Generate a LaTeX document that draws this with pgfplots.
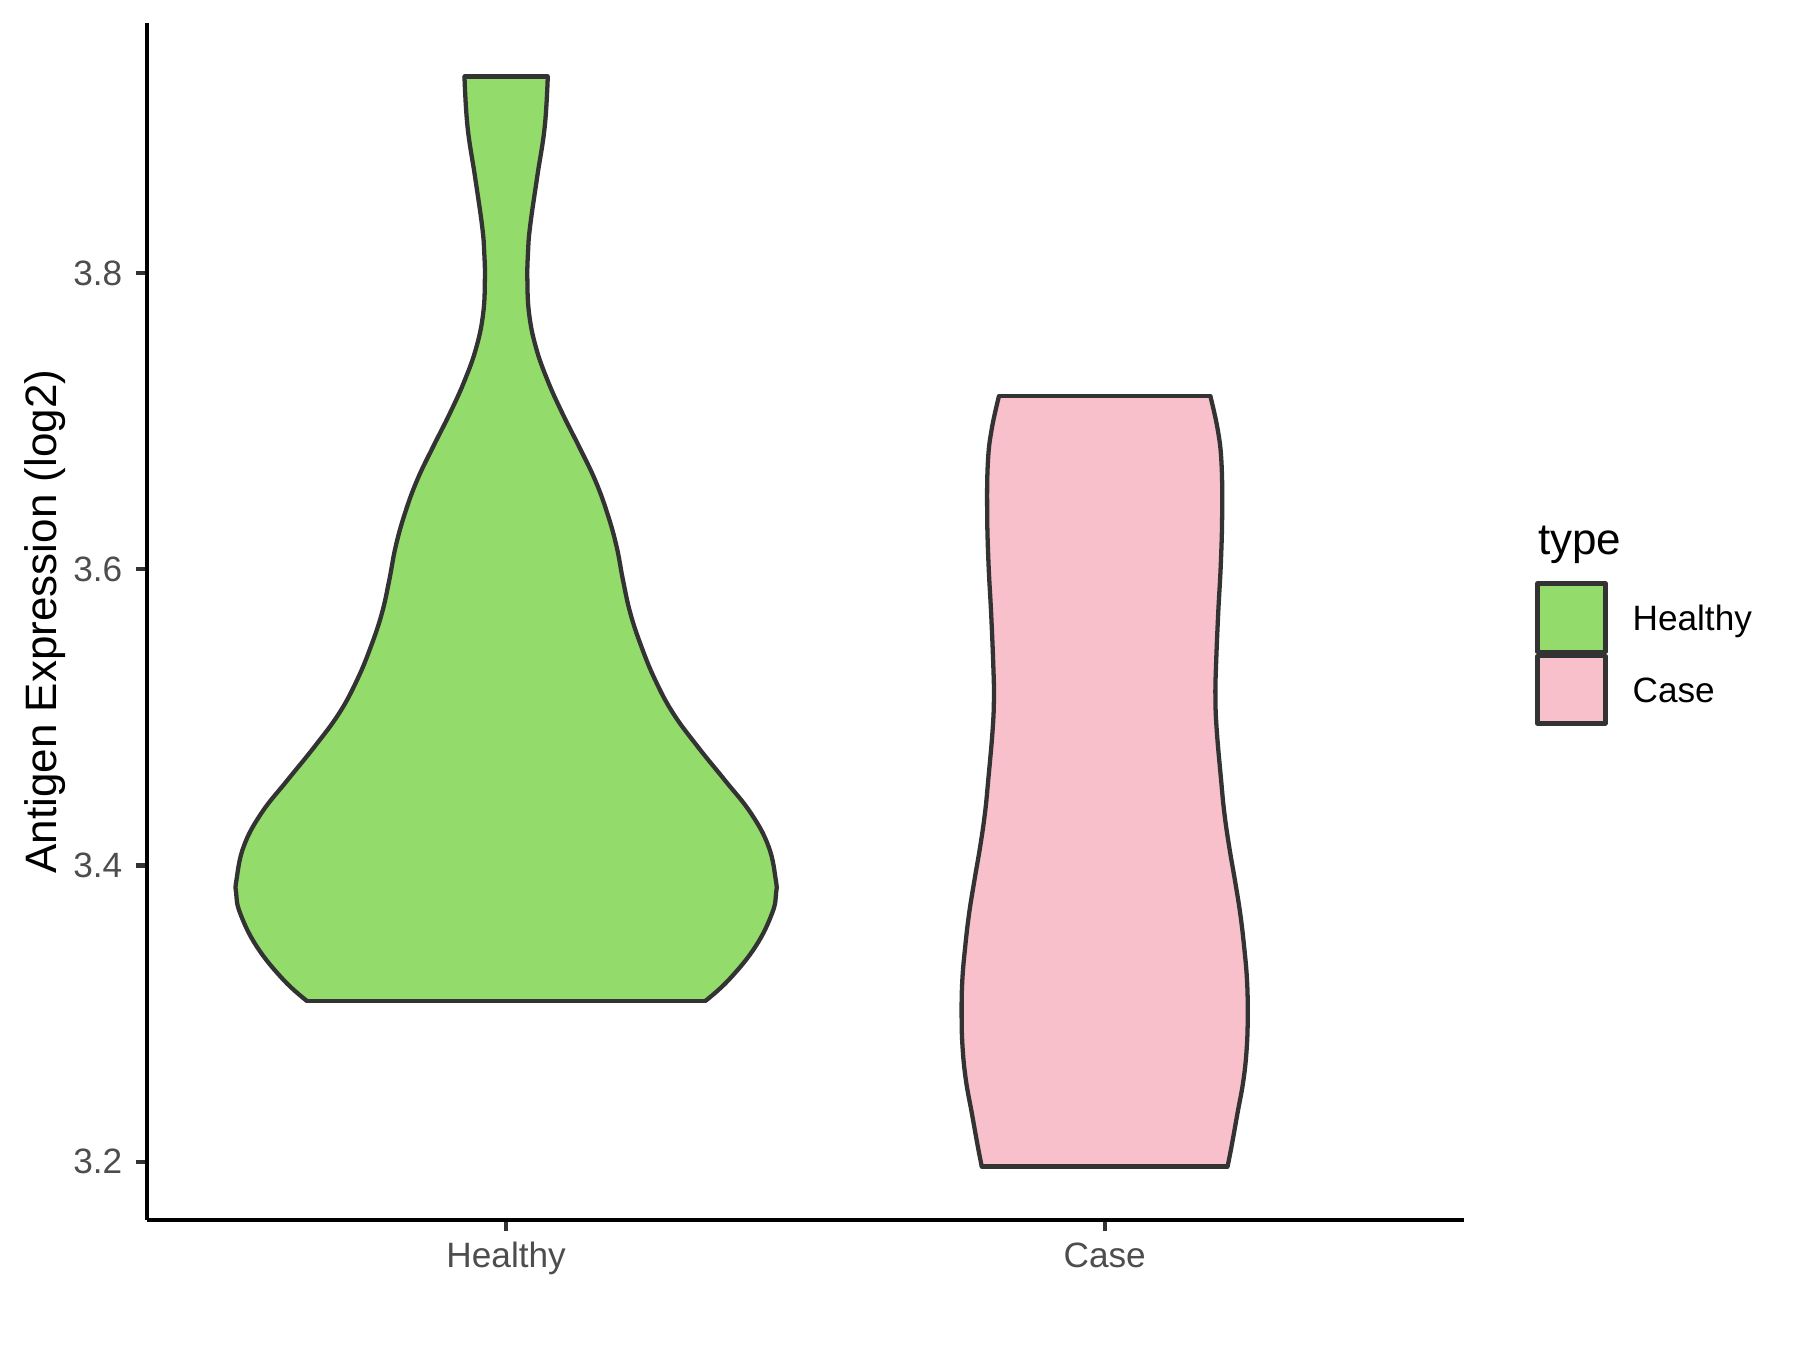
\documentclass[border=0pt]{standalone}
\usepackage{pgfplots}
\usepackage{pgfplotstable}
\pgfplotsset{compat=1.18}
\usepgfplotslibrary{fillbetween}
\usepackage{fontspec}
\setmainfont{Liberation Sans}
\definecolor{healthy}{RGB}{147,219,107}
\definecolor{case}{RGB}{247,192,203}
\definecolor{outl}{RGB}{51,51,51}
\definecolor{ticktxt}{RGB}{77,77,77}

% half widths of the violins
\pgfplotstableread{
y hw
3.3086 0.333
3.3228 0.372
3.3452 0.4165
3.3678 0.4444
3.3813 0.451
3.3903 0.4505
3.4128 0.4385
3.4353 0.409
3.4578 0.365
3.4803 0.320
3.5028 0.279
3.5253 0.249
3.5478 0.226
3.5704 0.2075
3.5928 0.1952
3.6153 0.1846
3.6379 0.169
3.6604 0.1485
3.6829 0.1218
3.7054 0.0939
3.7279 0.0689
3.7504 0.0494
3.7729 0.0383
3.7954 0.0355
3.8134 0.0365
3.8314 0.040
3.8652 0.052
3.8989 0.0645
3.9327 0.0696
}\healthy

\pgfplotstableread{
y hw
3.1967 0.2053
3.2102 0.2119
3.2327 0.2219
3.2552 0.2319
3.2777 0.2375
3.3002 0.2390
3.3227 0.2378
3.3452 0.2330
3.3678 0.2264
3.3903 0.2175
3.4128 0.2080
3.4353 0.2000
3.4578 0.1945
3.4916 0.1872
3.5141 0.1850
3.5366 0.1862
3.5704 0.1897
3.6041 0.1941
3.6379 0.1963
3.6716 0.1952
3.6941 0.1890
3.7171 0.1765
}\casetab

\begin{document}
\begin{tikzpicture}
\begin{axis}[
  at={(0,0)}, anchor=south west,
  width=329.2pt, height=299.3pt, scale only axis,
  xmin=0.4, xmax=2.6, ymin=3.1605, ymax=3.9689,
  axis x line*=bottom, axis y line*=left,
  axis line style={line width=1.07pt, black, -},
  xtick={1,2}, xticklabels={Healthy,Case},
  ytick={3.2,3.4,3.6,3.8}, yticklabels={3.2,3.4,3.6,3.8},
  tick align=outside, major tick length=2.75pt,
  tick style={line width=1.07pt, outl},
  tick label style={font=\fontsize{8.8}{10}\selectfont, text=ticktxt},
  xticklabel style={anchor=base, yshift=-9pt},
  yticklabel style={anchor=east, inner xsep=0pt, xshift=-3.25pt},
  every axis y label/.style={at={(axis description cs:-0.0685,0.5)}, rotate=90, anchor=base},
  ylabel={Antigen Expression (log2)},
  label style={font=\fontsize{11}{13}\selectfont},
  every axis plot/.append style={tension=0.7},
]
\addplot[draw=none, smooth, name path=hl] table[x expr=1-\thisrow{hw}, y=y] {\healthy};
\addplot[draw=none, smooth, name path=hr] table[x expr=1+\thisrow{hw}, y=y] {\healthy};
\addplot[draw=none, smooth, name path=cl] table[x expr=2-\thisrow{hw}, y=y] {\casetab};
\addplot[draw=none, smooth, name path=cr] table[x expr=2+\thisrow{hw}, y=y] {\casetab};
\addplot[healthy] fill between[of=hl and hr, reverse=true];
\addplot[case] fill between[of=cl and cr, reverse=true];

\addplot[outl, line width=1.07pt, smooth] table[x expr=1-\thisrow{hw}, y=y] {\healthy};
\addplot[outl, line width=1.07pt, smooth] table[x expr=1+\thisrow{hw}, y=y] {\healthy};
\addplot[outl, line width=1.07pt, line cap=round] coordinates {(0.667,3.3086) (1.333,3.3086)};
\addplot[outl, line width=1.07pt, line cap=round] coordinates {(0.9304,3.9327) (1.0696,3.9327)};

\addplot[outl, line width=1.07pt, smooth] table[x expr=2-\thisrow{hw}, y=y] {\casetab};
\addplot[outl, line width=1.07pt, smooth] table[x expr=2+\thisrow{hw}, y=y] {\casetab};
\addplot[outl, line width=1.07pt, line cap=round] coordinates {(1.7947,3.1967) (2.2053,3.1967)};
\addplot[outl, line width=1.07pt, line cap=round] coordinates {(1.8235,3.7171) (2.1765,3.7171)};
\end{axis}

% legend
\draw[outl, line width=1.07pt, line join=round, fill=healthy] (347.6pt,142.1pt) rectangle (364.6pt,159.2pt);
\draw[outl, line width=1.07pt, line join=round, fill=case] (347.6pt,124.2pt) rectangle (364.6pt,141.05pt);
\node[anchor=base west, inner sep=0pt, font=\fontsize{11}{13}\selectfont] at (347.6pt,166.3pt) {type};
\node[anchor=base west, inner sep=0pt, font=\fontsize{8.8}{10}\selectfont] at (371.2pt,147.3pt) {Healthy};
\node[anchor=base west, inner sep=0pt, font=\fontsize{8.8}{10}\selectfont] at (371.2pt,129.4pt) {Case};
\path (-36.75pt,-32.45pt) rectangle (413.25pt,305.05pt);
\end{tikzpicture}
\end{document}
